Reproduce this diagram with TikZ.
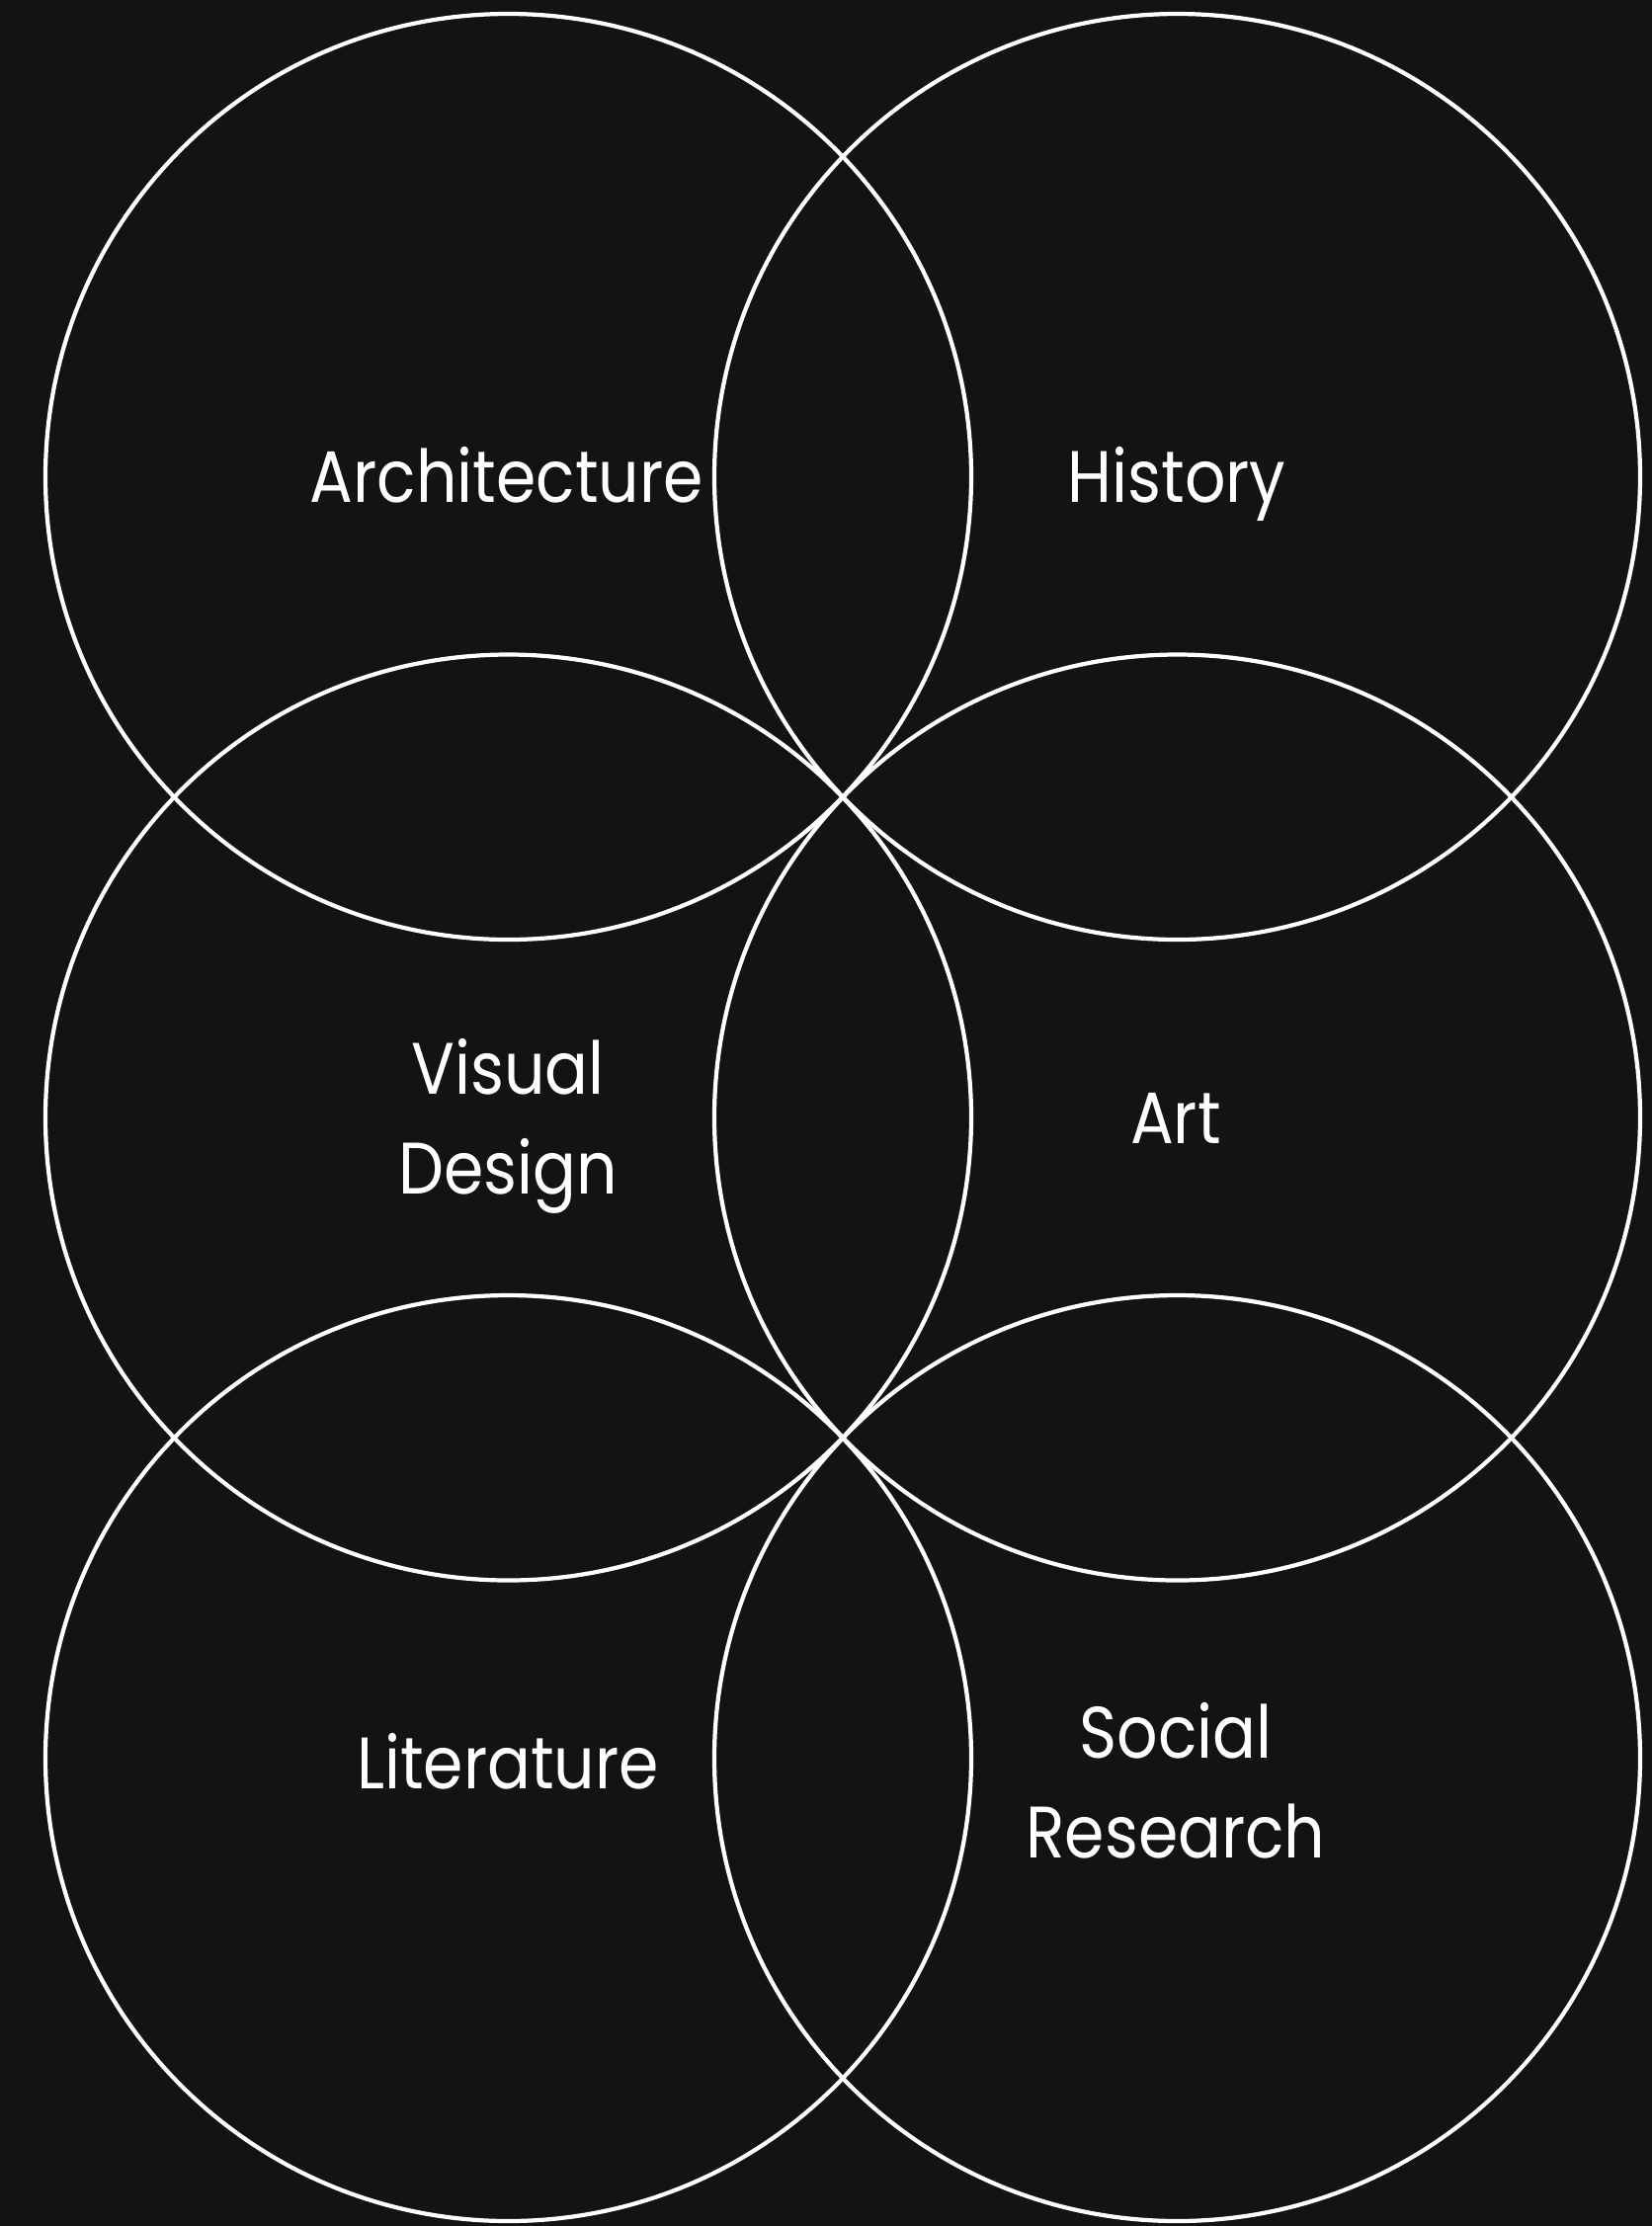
\documentclass[tikz,border=0pt]{standalone}
\usepackage{fontspec}
\setmainfont[FakeStretch=0.88]{Poppins}
\definecolor{vennbg}{RGB}{19,19,19}
\definecolor{vennline}{RGB}{255,255,255}

\begin{document}
\begin{tikzpicture}[
    ring/.style={draw=vennline,line width=1.2pt},
    field/.style={text=vennline,font=\fontsize{21}{28.5}\selectfont,align=center,anchor=base,inner sep=0pt}]
        \fill[vennbg] (0,0) rectangle (16.72,-22.53);
        \foreach \cx in {5.145,11.915} \foreach \cy in {-4.825,-11.31,-17.795} \draw[ring] (\cx,\cy) circle (4.685);
        \node[field] (arch) at (5.13,-5.08) {Architecture};
        \node[field] (hist) at (11.91,-5.08) {History};
        \node[field] (visd) at (5.14,-12.08) {Visual\\Design};
        \node[field] (art) at (11.9,-11.57) {Art};
        \node[field] (lit) at (5.14,-18.10) {Literature};
        \node[field] (socr) at (11.9,-18.80) {Social\\Research};
      \end{tikzpicture}
\end{document}
